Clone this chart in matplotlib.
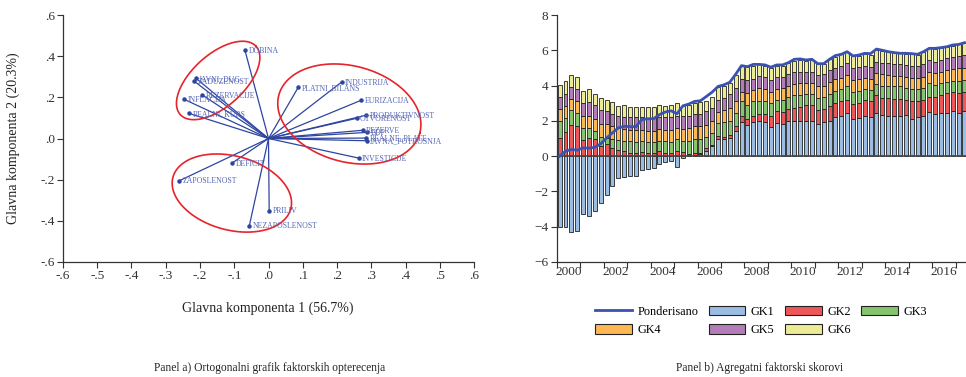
import numpy as np
import matplotlib
matplotlib.use('Agg')
import matplotlib.pyplot as plt
from matplotlib.lines import Line2D
from matplotlib.patches import Patch

plt.rcParams['font.family'] = ['Liberation Serif', 'DejaVu Serif']

# --- Panel a) faktorska opterecenja (PC1, PC2) ---
var_names = ['DOBINA', 'JAVNI_DUG', 'ZADUZENOST', 'REZERVACIJE', 'INFLACIJA',
             'REALNI_KURS', 'PLATNI_BILANS', 'INDUSTRIJA', 'EURIZACIJA',
             'PRODUKTIVNOST', 'OTVORENOST', 'REZERVE', 'BDP', 'REALNE_PLATE',
             'JAVNA_POTROSNJA', 'INVESTICIJE', 'DEFICIT', 'ZAPOSLENOST',
             'PRILIV', 'NEZAPOSLENOST']
pc1 = [-0.069, -0.212, -0.218, -0.193, -0.246, -0.232, 0.087, 0.214, 0.271,
       0.285, 0.257, 0.275, 0.289, 0.285, 0.287, 0.263, -0.107, -0.260,
       0.002, -0.056]
pc2 = [0.430, 0.293, 0.280, 0.211, 0.190, 0.122, 0.249, 0.275, 0.186,
       0.113, 0.098, 0.040, 0.030, 0.002, -0.011, -0.095, -0.120, -0.205,
       -0.351, -0.424]

# grupe (elipse): centar u podacima, poluose u pikselima, ugao u stepenima
ell_cx = [-0.147, 0.236, -0.107]
ell_cy = [0.282, 0.119, -0.265]
ell_a = [51, 73, 61]
ell_b = [26, 48, 37]
ell_ang = [42, -15, -15]

# --- Panel b) agregatni faktorski skorovi, kvartalno 2000Q1 - 2017Q2 ---
quarters = ['%dQ%d' % (y, q) for y in range(2000, 2018) for q in range(1, 5)][:70]

gk1 = [-4.00, -4.00, -4.30, -4.25, -3.30, -3.40, -3.10, -2.65, -2.20, -1.70,
       -1.25, -1.20, -1.15, -1.15, -0.80, -0.75, -0.70, -0.47, -0.35, -0.30,
       -0.60, -0.10, 0.03, 0.05, 0.10, 0.30, 0.55, 1.00, 0.95, 1.05,
       1.40, 1.95, 1.75, 1.95, 1.97, 1.94, 1.64, 1.90, 1.82, 1.97,
       2.01, 2.01, 1.97, 2.01, 1.82, 1.94, 2.01, 2.20, 2.26, 2.44,
       2.12, 2.16, 2.26, 2.20, 2.44, 2.31, 2.26, 2.26, 2.26, 2.35,
       2.12, 2.20, 2.26, 2.50, 2.39, 2.44, 2.44, 2.54, 2.44, 2.58]
gk2 = [1.05, 1.35, 1.74, 1.70, 0.90, 1.05, 1.00, 0.55, 0.70, 0.45,
       0.35, 0.30, 0.20, 0.15, 0.25, 0.20, 0.15, 0.28, 0.15, 0.15,
       0.30, 0.25, 0.09, 0.10, 0.10, 0.15, 0.10, 0.15, 0.15, 0.15,
       0.30, 0.35, 0.35, 0.30, 0.42, 0.47, 0.62, 0.64, 0.68, 0.70,
       0.72, 0.75, 0.91, 0.87, 0.81, 0.73, 0.83, 0.79, 0.84, 0.76,
       0.83, 0.87, 0.94, 0.94, 1.00, 0.98, 1.03, 0.99, 0.99, 0.85,
       0.98, 0.90, 0.94, 0.88, 0.94, 1.04, 1.13, 1.09, 1.13, 1.05]
gk3 = [0.95, 0.80, 0.86, 0.75, 0.70, 0.55, 0.40, 0.55, 0.35, 0.50,
       0.55, 0.55, 0.65, 0.65, 0.60, 0.60, 0.65, 0.57, 0.70, 0.65,
       0.65, 0.60, 0.73, 0.80, 0.75, 0.65, 0.65, 0.75, 0.85, 0.80,
       0.75, 0.80, 0.80, 0.85, 0.75, 0.73, 0.75, 0.64, 0.70, 0.71,
       0.71, 0.68, 0.64, 0.64, 0.66, 0.66, 0.71, 0.71, 0.72, 0.75,
       0.68, 0.67, 0.62, 0.62, 0.64, 0.71, 0.66, 0.70, 0.70, 0.69,
       0.72, 0.72, 0.69, 0.76, 0.71, 0.66, 0.66, 0.64, 0.70, 0.69]
gk4 = [0.70, 0.70, 0.65, 0.65, 0.70, 0.70, 0.70, 0.75, 0.75, 0.75,
       0.70, 0.70, 0.65, 0.70, 0.65, 0.65, 0.65, 0.70, 0.65, 0.70,
       0.65, 0.70, 0.75, 0.75, 0.75, 0.65, 0.70, 0.60, 0.65, 0.75,
       0.70, 0.55, 0.70, 0.65, 0.71, 0.68, 0.62, 0.64, 0.65, 0.60,
       0.64, 0.70, 0.62, 0.62, 0.66, 0.65, 0.68, 0.68, 0.63, 0.66,
       0.69, 0.68, 0.60, 0.62, 0.62, 0.64, 0.66, 0.62, 0.62, 0.62,
       0.63, 0.63, 0.62, 0.62, 0.66, 0.65, 0.66, 0.67, 0.71, 0.70]
gk5 = [0.65, 0.67, 0.65, 0.70, 0.70, 0.75, 0.80, 0.75, 0.75, 0.70,
       0.65, 0.65, 0.70, 0.70, 0.70, 0.70, 0.70, 0.65, 0.70, 0.70,
       0.70, 0.70, 0.70, 0.70, 0.70, 0.80, 0.75, 0.70, 0.70, 0.75,
       0.70, 0.70, 0.70, 0.65, 0.72, 0.67, 0.69, 0.65, 0.66, 0.66,
       0.68, 0.65, 0.62, 0.65, 0.66, 0.66, 0.66, 0.64, 0.68, 0.65,
       0.70, 0.70, 0.71, 0.70, 0.66, 0.66, 0.65, 0.66, 0.64, 0.66,
       0.68, 0.68, 0.70, 0.69, 0.66, 0.66, 0.69, 0.70, 0.72, 0.71]
gk6 = [0.67, 0.73, 0.70, 0.70, 0.70, 0.75, 0.65, 0.70, 0.65, 0.65,
       0.60, 0.70, 0.60, 0.60, 0.60, 0.65, 0.65, 0.68, 0.65, 0.70,
       0.70, 0.60, 0.60, 0.60, 0.65, 0.60, 0.60, 0.70, 0.70, 0.65,
       0.75, 0.75, 0.75, 0.70, 0.64, 0.64, 0.66, 0.66, 0.62, 0.62,
       0.63, 0.66, 0.65, 0.66, 0.60, 0.60, 0.62, 0.62, 0.64, 0.62,
       0.64, 0.62, 0.66, 0.65, 0.66, 0.66, 0.62, 0.60, 0.62, 0.60,
       0.64, 0.60, 0.67, 0.66, 0.71, 0.66, 0.62, 0.62, 0.63, 0.66]
ponderisano = [0.00, 0.28, 0.38, 0.34, 0.47, 0.45, 0.50, 0.70, 1.03, 1.32,
               1.60, 1.69, 1.67, 1.67, 2.07, 2.12, 2.12, 2.35, 2.50, 2.57,
               2.40, 2.85, 2.95, 3.10, 3.14, 3.38, 3.63, 3.95, 4.04, 4.19,
               4.64, 5.13, 5.07, 5.20, 5.20, 5.17, 5.04, 5.17, 5.17, 5.30,
               5.49, 5.51, 5.45, 5.49, 5.24, 5.24, 5.49, 5.70, 5.77, 5.92,
               5.68, 5.73, 5.83, 5.81, 6.07, 6.00, 5.92, 5.87, 5.83, 5.83,
               5.81, 5.77, 5.92, 6.11, 6.11, 6.15, 6.20, 6.30, 6.33, 6.43]

gk_names = ['GK1', 'GK2', 'GK3', 'GK4', 'GK5', 'GK6']
gk_colors = ['#9cbde3', '#ee5757', '#86c56c', '#fdb854', '#b47cb8', '#ecec94']

W, H = 966, 377
fig = plt.figure(figsize=(W / 100, H / 100), dpi=100)

# ---------------- Panel a) ----------------
ax1 = fig.add_axes([63 / W, (H - 262) / H, 411 / W, 247 / H])
for x, y, name in zip(pc1, pc2, var_names):
    ax1.plot([0, x], [0, y], color='#2e45a0', lw=0.9)
    ax1.plot(x, y, 'o', color='#2e45a0', ms=2.2)
    ax1.annotate(name, (x, y), xytext=(2.5, -0.5), textcoords='offset points',
                 va='center', ha='left', fontsize=5.6, color='#5565b5')

# elipse crtane u pikselima pa pretvorene u jedinice podataka
sx = 411 / 1.2
sy = 247 / 1.2
t = np.linspace(0, 2 * np.pi, 200)
for cx, cy, a, b, ang in zip(ell_cx, ell_cy, ell_a, ell_b, ell_ang):
    th = np.deg2rad(ang)
    ex = a * np.cos(t) * np.cos(th) - b * np.sin(t) * np.sin(th)
    ey = a * np.cos(t) * np.sin(th) + b * np.sin(t) * np.cos(th)
    ax1.plot(cx + ex / sx, cy + ey / sy, color='#e5242b', lw=1.2)

ax1.set_xlim(-0.6, 0.6)
ax1.set_ylim(-0.6, 0.6)
xt = np.round(np.arange(-0.6, 0.61, 0.1), 1)
yt = np.round(np.arange(-0.6, 0.61, 0.2), 1)
fmt = lambda v: ('-' if v < 0 else '') + ('%.1f' % abs(v))[1:]
ax1.set_xticks(xt)
ax1.set_xticklabels([fmt(v) for v in xt])
ax1.set_yticks(yt)
ax1.set_yticklabels([fmt(v) for v in yt])
for s in ['top', 'right']:
    ax1.spines[s].set_visible(False)
for s in ['left', 'bottom']:
    ax1.spines[s].set_color('#333333')
    ax1.spines[s].set_linewidth(0.9)
ax1.tick_params(direction='out', length=4, width=0.8, colors='#333333',
                labelsize=9.5, pad=2)
fig.text(268 / W, 1 - 308 / H, 'Glavna komponenta 1 (56.7%)', ha='center',
         va='center', fontsize=10, color='#222222')
fig.text(13 / W, 1 - 138 / H, 'Glavna komponenta 2 (20.3%)', ha='center',
         va='center', rotation=90, fontsize=10, color='#222222')
fig.text(270 / W, 1 - 368 / H, 'Panel a) Ortogonalni grafik faktorskih opterecenja',
         ha='center', va='center', fontsize=8.3, color='#222222')

# ---------------- Panel b) ----------------
ax2 = fig.add_axes([556.7 / W, (H - 262) / H, (W - 556.7) / W, 247 / H])
xpos = np.array([int(q[:4]) + (int(q[-1]) - 1) * 0.25 + 0.125 for q in quarters])
series = [np.array(s) for s in (gk1, gk2, gk3, gk4, gk5, gk6)]
pos_bot = np.zeros(len(xpos))
neg_bot = np.zeros(len(xpos))
for vals, col in zip(series, gk_colors):
    bot = np.where(vals >= 0, pos_bot, neg_bot)
    ax2.bar(xpos, vals, bottom=bot, width=0.17, color=col,
            edgecolor='#222222', linewidth=0.6, zorder=2)
    pos_bot = pos_bot + np.clip(vals, 0, None)
    neg_bot = neg_bot + np.clip(vals, None, 0)
ax2.axhline(0, color='#444444', lw=1.2, zorder=3)
ax2.plot(xpos, ponderisano, color='#3a52b0', lw=2, zorder=4)

ax2.set_ylim(-6, 8)
ax2.set_yticks(np.arange(-6, 9, 2))
ax2.set_xlim(2000, 2000 + (W - 556.7) / 23.47)
ax2.set_xticks(np.arange(2000, 2018))
ax2.set_xticklabels([])
ax2.set_xticks(np.arange(2000, 2017, 2) + 0.5, minor=True)
ax2.set_xticklabels([str(y) for y in range(2000, 2017, 2)], minor=True)
ax2.tick_params(axis='x', which='minor', length=0, labelsize=9.5, pad=3,
                colors='#333333')
ax2.tick_params(which='major', direction='out', length=4, width=0.8,
                colors='#333333', labelsize=9.5, pad=2)
for s in ['top', 'right']:
    ax2.spines[s].set_visible(False)
for s in ['left', 'bottom']:
    ax2.spines[s].set_color('#333333')
    ax2.spines[s].set_linewidth(0.9)

# legenda: redosled tako da prvi red bude Ponderisano, GK1, GK2, GK3
line_h = Line2D([], [], color='#3a52b0', lw=2)
patches = [Patch(facecolor=c, edgecolor='#222222', lw=0.8) for c in gk_colors]
handles = [line_h, patches[3], patches[0], patches[4], patches[1], patches[5], patches[2]]
labels = ['Ponderisano', 'GK4', 'GK1', 'GK5', 'GK2', 'GK6', 'GK3']
fig.legend(handles, labels, loc='center', bbox_to_anchor=(761 / W, 1 - 321 / H),
           ncol=4, frameon=False, fontsize=8.8, handlelength=3.0,
           handleheight=0.85, handletextpad=0.45, columnspacing=0.85,
           labelspacing=0.55)
fig.text(760 / W, 1 - 368 / H, 'Panel b) Agregatni faktorski skorovi',
         ha='center', va='center', fontsize=8.3, color='#222222')

fig.savefig('out.png', dpi=100)
